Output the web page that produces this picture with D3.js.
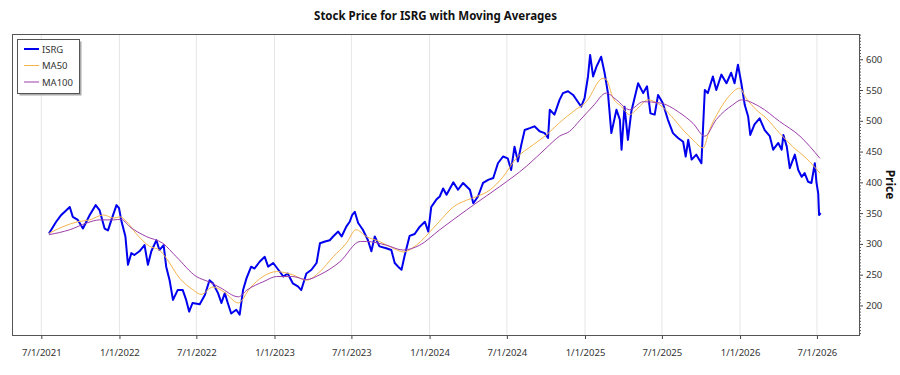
<!DOCTYPE html>
<html>
<head>
<meta charset="utf-8">
<script src="https://cdn.jsdelivr.net/npm/d3@7"></script>
<style>
  body { margin:0; background:#fff; }
  text { font-family: "Noto Sans", "DejaVu Sans", sans-serif; }
</style>
</head>
<body>
<script>
// price readings (date, close)
var priceDates = ["2021-07-19","2021-08-05","2021-08-17","2021-09-06","2021-09-13","2021-09-25","2021-10-07","2021-10-23","2021-11-06","2021-11-15","2021-11-27","2021-12-05","2021-12-13","2021-12-25","2021-12-31",
"2022-01-05","2022-01-15","2022-01-21","2022-01-29","2022-02-05","2022-02-17","2022-03-01","2022-03-09","2022-03-17","2022-03-29","2022-04-05","2022-04-15","2022-04-21","2022-04-29","2022-05-07","2022-05-18","2022-05-30","2022-06-07","2022-06-14","2022-06-22","2022-07-09","2022-07-21","2022-08-01","2022-08-09","2022-08-21","2022-08-29","2022-09-06","2022-09-13","2022-09-21","2022-10-03","2022-10-11","2022-10-19","2022-10-27","2022-11-07","2022-11-15","2022-11-27","2022-12-09","2022-12-17","2022-12-29",
"2023-01-10","2023-01-22","2023-02-01","2023-02-13","2023-02-25","2023-03-05","2023-03-17","2023-03-29","2023-04-10","2023-04-18","2023-04-30","2023-05-11","2023-05-19","2023-05-31","2023-06-08","2023-06-19","2023-06-27","2023-07-03","2023-07-09","2023-07-17","2023-07-28","2023-08-09","2023-08-17","2023-08-25","2023-09-05","2023-09-21","2023-10-03","2023-10-11","2023-10-19","2023-10-27","2023-11-03","2023-11-15","2023-11-27","2023-12-09","2023-12-21","2023-12-29",
"2024-01-05","2024-01-17","2024-01-25","2024-02-02","2024-02-10","2024-02-26","2024-03-08","2024-03-20","2024-04-05","2024-04-13","2024-04-24","2024-05-06","2024-05-18","2024-05-30","2024-06-10","2024-06-22","2024-07-03","2024-07-11","2024-07-19","2024-07-27","2024-08-04","2024-08-12","2024-08-24","2024-09-04","2024-09-16","2024-09-28","2024-10-06","2024-10-10","2024-10-21","2024-11-02","2024-11-10","2024-11-22","2024-12-04","2024-12-15","2024-12-23","2024-12-31",
"2025-01-08","2025-01-13","2025-01-20","2025-01-28","2025-02-08","2025-02-16","2025-02-24","2025-03-04","2025-03-16","2025-03-24","2025-03-28","2025-04-04","2025-04-12","2025-04-20","2025-05-06","2025-05-18","2025-05-27","2025-06-04","2025-06-14","2025-06-22","2025-07-03","2025-07-15","2025-07-27","2025-08-08","2025-08-20","2025-08-26","2025-09-01","2025-09-09","2025-09-20","2025-10-02","2025-10-10","2025-10-17","2025-10-29","2025-11-06","2025-11-18","2025-11-30","2025-12-11","2025-12-19","2025-12-27",
"2026-01-04","2026-01-12","2026-01-20","2026-01-25","2026-02-04","2026-02-16","2026-02-28","2026-03-12","2026-03-20","2026-04-01","2026-04-09","2026-04-13","2026-04-21","2026-04-28","2026-05-10","2026-05-18","2026-05-26","2026-06-02","2026-06-10","2026-06-18","2026-06-26","2026-06-30","2026-07-04","2026-07-06","2026-07-10"];
var priceValues = [317,336,347,360,344,339,325,347,363,355,325,322,339,363,358,
339,312,266,285,282,288,298,266,288,306,290,298,263,241,209,225,225,209,190,204,202,217,241,236,220,204,220,204,187,193,185,225,244,263,260,271,279,263,269,
258,247,252,236,231,225,252,258,269,301,304,306,312,320,312,328,336,347,352,334,323,306,288,312,296,293,290,269,263,258,280,313,316,328,336,320,
360,372,377,390,380,400,388,399,388,366,377,399,404,407,431,442,439,420,458,434,461,485,488,491,483,480,472,518,510,534,545,548,542,531,523,537,
572,607,572,588,604,578,545,480,518,502,453,523,469,515,561,545,556,512,510,542,529,502,480,472,466,442,469,437,445,431,550,545,572,550,575,561,578,561,591,
561,526,507,477,494,504,485,475,453,464,453,477,458,423,445,420,409,415,401,399,431,399,382,347,350];

var ma50Dates = ["2021-07-19","2021-08-21","2021-09-25","2021-10-23","2021-11-24","2021-12-18","2022-01-02","2022-01-18","2022-02-09","2022-03-13","2022-04-05","2022-04-21","2022-05-23","2022-06-24","2022-07-12","2022-08-09","2022-09-04","2022-10-08","2022-11-04","2022-12-05",
"2023-01-06","2023-02-12","2023-03-17","2023-04-18","2023-05-19","2023-06-19","2023-07-12","2023-08-05","2023-09-05","2023-10-07","2023-10-31","2023-12-01",
"2024-01-09","2024-01-25","2024-02-26","2024-03-28","2024-04-21","2024-05-23","2024-06-22","2024-07-23","2024-09-01","2024-10-02","2024-11-02","2024-12-04",
"2025-01-04","2025-02-12","2025-02-20","2025-03-08","2025-03-28","2025-04-16","2025-05-06","2025-05-29","2025-06-26","2025-07-24","2025-08-20","2025-09-12","2025-10-06","2025-10-21","2025-11-14","2025-12-06","2025-12-31",
"2026-01-15","2026-02-08","2026-03-04","2026-04-04","2026-05-05","2026-06-06","2026-07-08"];
var ma50Values = [317,328,336,339,347,342,344,336,317,296,290,277,244,225,218,230,222,204,228,247,
255,250,241,255,279,301,323,312,304,293,287,298,
325,337,360,371,377,388,409,439,461,477,497,515,
531,569,567,537,523,510,521,534,526,507,485,469,456,485,518,540,553,
537,518,504,480,458,439,415];

var ma100Dates = ["2021-07-19","2021-09-06","2021-10-16","2021-11-15","2021-12-18","2022-01-05","2022-01-25","2022-03-05","2022-04-13","2022-05-15","2022-07-01","2022-08-01","2022-08-26","2022-10-08","2022-10-28","2022-12-07",
"2023-01-06","2023-02-12","2023-03-17","2023-04-18","2023-06-04","2023-07-22","2023-08-05","2023-09-21","2023-10-31","2023-12-09",
"2024-01-25","2024-03-28","2024-04-13","2024-06-14","2024-08-16","2024-10-02","2024-11-02","2024-11-26","2024-12-19",
"2025-01-20","2025-02-20","2025-03-16","2025-04-16","2025-05-18","2025-06-26","2025-08-12","2025-09-12","2025-10-10","2025-11-06","2025-12-15",
"2026-01-04","2026-02-16","2026-04-04","2026-05-22","2026-07-08"];
var ma100Values = [315,323,334,339,339,340,328,312,301,279,247,238,229,214,225,239,
247,247,242,250,271,304,304,298,290,298,
323,355,363,393,426,456,475,483,500,
524,545,534,518,531,529,513,496,475,502,526,
534,523,499,475,439];

var xTickDates = ["2021-07-01","2022-01-01","2022-07-01","2023-01-01","2023-07-01","2024-01-01","2024-07-01","2025-01-01","2025-07-01","2026-01-01","2026-07-01"];
var yTicks = [200,250,300,350,400,450,500,550,600];

var width = 900;
var height = 375;
var pLeft = 12, pRight = 859, pTop = 34, pBottom = 335;
var parse = d3.timeParse("%Y-%m-%d");

var x = d3.scaleTime()
  .domain([parse("2021-04-23"), parse("2026-10-08")])
  .range([pLeft, pRight]);
var y = d3.scaleLinear()
  .domain([152, 641])
  .range([pBottom, pTop]);

var svg = d3.select("body")
  .append("svg")
  .attr("width", width)
  .attr("height", height);

// title
svg.append("text")
  .attr("x", (pLeft + pRight) / 2)
  .attr("y", 20)
  .attr("text-anchor", "middle")
  .attr("font-size", 11.5)
  .attr("font-weight", "bold")
  .attr("fill", "#111")
  .text("Stock Price for ISRG with Moving Averages");

// vertical grid
svg.append("g")
  .selectAll("line")
  .data(xTickDates)
  .enter()
  .append("line")
  .attr("x1", function(d){ return x(parse(d)); })
  .attr("x2", function(d){ return x(parse(d)); })
  .attr("y1", pTop)
  .attr("y2", pBottom)
  .attr("stroke", "#e6e6e6")
  .attr("stroke-width", 1);

// x axis
var xAxis = d3.axisBottom(x)
  .tickValues(xTickDates.map(parse))
  .tickSize(4)
  .tickPadding(10)
  .tickFormat(function(d){ return (d.getMonth()+1) + "/" + d.getDate() + "/" + d.getFullYear(); });
var gx = svg.append("g")
  .attr("transform", "translate(0," + pBottom + ")")
  .call(xAxis);
gx.select(".domain").remove();
gx.selectAll("line").attr("stroke", "#444");
gx.selectAll("text").attr("font-size", 9.5).attr("fill", "#333")
  .attr("font-family", "'Noto Sans', sans-serif");

// y axis on the right, minor ticks then major
var minor = d3.range(155, 641, 5).filter(function(v){ return v % 50 != 0; });
var gyMinor = svg.append("g")
  .attr("transform", "translate(" + pRight + ",0)")
  .call(d3.axisRight(y).tickValues(minor).tickSize(2).tickFormat(""));
gyMinor.select(".domain").remove();
gyMinor.selectAll("line").attr("stroke", "#555");
var gy = svg.append("g")
  .attr("transform", "translate(" + pRight + ",0)")
  .call(d3.axisRight(y).tickValues(yTicks).tickSize(4).tickPadding(3));
gy.select(".domain").remove();
gy.selectAll("line").attr("stroke", "#444");
gy.selectAll("text").attr("font-size", 9.5).attr("fill", "#333")
  .attr("font-family", "'Noto Sans', sans-serif");

svg.append("text")
  .attr("transform", "translate(886," + ((pTop + pBottom) / 2) + ") rotate(90)")
  .attr("text-anchor", "middle")
  .attr("font-size", 12)
  .attr("font-weight", "bold")
  .attr("fill", "#111")
  .text("Price");

// lines
svg.append("clipPath").attr("id", "clip")
  .append("rect").attr("x", pLeft).attr("y", pTop)
  .attr("width", pRight - pLeft).attr("height", pBottom - pTop);
var plot = svg.append("g").attr("clip-path", "url(#clip)");

function series(dates, values) {
  return dates.map(function(d, i){ return { date: parse(d), value: values[i] }; });
}
var line = d3.line()
  .x(function(d){ return x(d.date); })
  .y(function(d){ return y(d.value); });
var smooth = d3.line()
  .curve(d3.curveMonotoneX)
  .x(function(d){ return x(d.date); })
  .y(function(d){ return y(d.value); });

plot.append("path")
  .datum(series(priceDates, priceValues))
  .attr("d", line)
  .attr("fill", "none")
  .attr("stroke", "#0000ee")
  .attr("stroke-width", 2)
  .attr("stroke-linejoin", "round");
plot.append("path")
  .datum(series(ma50Dates, ma50Values))
  .attr("d", smooth)
  .attr("fill", "none")
  .attr("stroke", "#f4b44c")
  .attr("stroke-width", 1);
plot.append("path")
  .datum(series(ma100Dates, ma100Values))
  .attr("d", smooth)
  .attr("fill", "none")
  .attr("stroke", "#9c3ea8")
  .attr("stroke-width", 1);

// frame
svg.append("rect")
  .attr("x", pLeft + 0.5)
  .attr("y", pTop + 0.5)
  .attr("width", pRight - pLeft)
  .attr("height", pBottom - pTop)
  .attr("fill", "none")
  .attr("stroke", "#555")
  .attr("stroke-width", 1);

// legend
var legend = svg.append("g");
legend.append("rect")
  .attr("x", 19.5).attr("y", 41.5).attr("width", 62).attr("height", 54)
  .attr("fill", "#aaa");
legend.append("rect")
  .attr("x", 17.5).attr("y", 39.5).attr("width", 62).attr("height", 54)
  .attr("fill", "#fff").attr("stroke", "#555");
var names = ["ISRG", "MA50", "MA100"];
var colors = ["#0000ee", "#f4b44c", "#9c3ea8"];
var widths = [2, 1, 1];
names.forEach(function(n, i){
  var yy = 49 + i * 16.5;
  legend.append("line")
    .attr("x1", 24).attr("x2", 39).attr("y1", yy).attr("y2", yy)
    .attr("stroke", colors[i]).attr("stroke-width", widths[i]);
  legend.append("text")
    .attr("x", 42).attr("y", yy + 3.5)
    .attr("font-size", 9.5).attr("fill", "#333")
    .text(n);
});
</script>
</body>
</html>
